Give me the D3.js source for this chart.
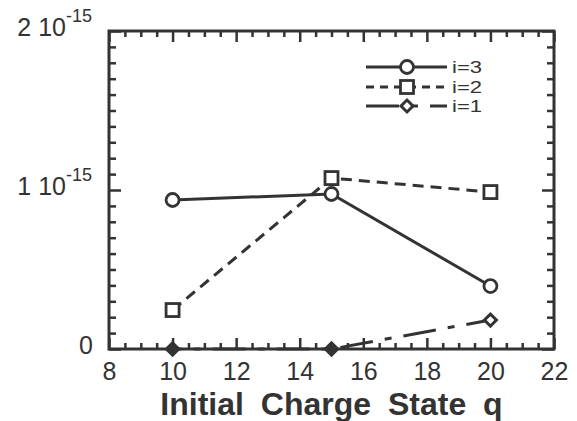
<!DOCTYPE html>
<html>
<head>
<meta charset="utf-8">
<title>Cross section vs initial charge state</title>
<script src="https://cdn.jsdelivr.net/npm/d3@7"></script>
<style>
  body { margin: 0; background: #fff; }
  svg { font-family: "Liberation Sans", Arial, Helvetica, sans-serif; }
  .axis path { display: none; }
  .axis line { stroke: #333; stroke-width: 2.5; }
  .axis text { fill: #333; font-size: 25px; }
  .serie { fill: none; stroke: #333; stroke-width: 3; }
</style>
</head>
<body>
<div id="graphe"></div>
<script>
// donnees
var charge = [10, 15, 20];
var sigma3 = [0.937e-15, 0.975e-15, 0.396e-15];
var sigma2 = [0.245e-15, 1.075e-15, 0.987e-15];
var sigma1 = [0, 0, 0.182e-15];
var plein1 = [true, true, false];   // losanges pleins ou vides

var xMajor = [8, 10, 12, 14, 16, 18, 20, 22];
var yMajor = [0, 1e-15, 2e-15];
var yLabels = ["0", "1 10", "2 10"];

var width = 577, height = 421;
var margin = {top: 31, right: 23, bottom: 72, left: 109};
var w = width - margin.left - margin.right,
    h = height - margin.top - margin.bottom;

var svg = d3.select("#graphe").append("svg")
    .attr("width", width)
    .attr("height", height);

var x = d3.scaleLinear().domain([8, 22]).range([margin.left, margin.left + w]);
var y = d3.scaleLinear().domain([0, 2e-15]).range([margin.top + h, margin.top]);

var xMinor = d3.range(8, 22.01, 0.5).filter(function(d) { return d % 2 !== 0; });
var yMinor = d3.range(0, 20.5, 1).filter(function(d) { return d % 10 !== 0; })
    .map(function(d) { return d * 1e-16; });

// courbes
var line = d3.line()
    .x(function(d) { return x(d[0]); })
    .y(function(d) { return y(d[1]); });

function pts(s) { return charge.map(function(c, i) { return [c, s[i]]; }); }

svg.append("path").attr("class", "serie").attr("d", line(pts(sigma3)));
svg.append("path").attr("class", "serie").attr("d", line(pts(sigma2)))
    .style("stroke-dasharray", "11,7");
svg.append("path").attr("class", "serie").attr("d", line(pts(sigma1)))
    .style("stroke-dasharray", "33,12,7,12").style("stroke-dashoffset", 24);

// axes : graduations vers l'interieur sur les quatre cotes
function ticks(axis, vals, size, g) {
  svg.append("g").attr("class", "axis").attr("transform", g)
    .call(axis.tickValues(vals).tickSize(size).tickFormat(""));
}
ticks(d3.axisBottom(x), xMinor, -6, "translate(0," + y(0) + ")");
ticks(d3.axisTop(x), xMinor, -6, "translate(0," + y(2e-15) + ")");
ticks(d3.axisTop(x), xMajor, -11, "translate(0," + y(2e-15) + ")");
ticks(d3.axisLeft(y), yMinor, -7, "translate(" + x(8) + ",0)");
ticks(d3.axisRight(y), yMinor, -7, "translate(" + x(22) + ",0)");
ticks(d3.axisRight(y), yMajor, -12, "translate(" + x(22) + ",0)");

svg.append("g").attr("class", "axis")
    .attr("transform", "translate(0," + y(0) + ")")
    .call(d3.axisBottom(x).tickValues(xMajor).tickSize(-11).tickPadding(13)
      .tickFormat(d3.format("d")));

var yAxis = svg.append("g").attr("class", "axis")
    .attr("transform", "translate(" + x(8) + ",0)")
    .call(d3.axisLeft(y).tickValues(yMajor).tickSize(-12).tickPadding(17)
      .tickFormat(function(d, i) { return yLabels[i]; }));
yAxis.selectAll(".tick text")
    .attr("dy", "0.18em")
    .each(function(d, i) {
      if (i === 0) return;
      var t = d3.select(this);
      t.text(null);
      t.append("tspan").text(yLabels[i]);
      t.append("tspan").attr("dy", -14).style("font-size", "18px").text("-15");
    });
yAxis.selectAll(".tick").filter(function(d) { return d === 0; })
    .select("text").attr("x", -16);

// cadre
svg.append("rect")
    .attr("x", x(8)).attr("y", y(2e-15))
    .attr("width", x(22) - x(8)).attr("height", y(0) - y(2e-15))
    .style("fill", "none").style("stroke", "#333").style("stroke-width", 3);

// symboles
var losange = d3.symbol().type(d3.symbolSquare);

function marks(s, kind, fills) {
  var g = svg.append("g");
  s.forEach(function(v, i) {
    var cx = x(charge[i]), cy = y(v);
    var filled = fills ? fills[i] : false;
    if (kind === "circle") {
      g.append("circle").attr("cx", cx).attr("cy", cy).attr("r", 6.5)
        .style("fill", "#fff").style("stroke", "#333").style("stroke-width", 2.8);
    } else if (kind === "square") {
      g.append("rect").attr("x", cx - 6.5).attr("y", cy - 6.5)
        .attr("width", 13).attr("height", 13)
        .style("fill", "#fff").style("stroke", "#333").style("stroke-width", 2.8);
    } else {
      g.append("path").attr("d", losange.size(filled ? 105 : 72)())
        .attr("transform", "translate(" + cx + "," + cy + ") rotate(45)")
        .style("fill", filled ? "#333" : "#fff")
        .style("stroke", "#333").style("stroke-width", filled ? 1.5 : 3);
    }
  });
}
marks(sigma3, "circle");
marks(sigma2, "square");
marks(sigma1, "diamond", plein1);

// legende
var legende = [
  {nom: "i=3", kind: "circle", dash: null, y: 67},
  {nom: "i=2", kind: "square", dash: "8,6", y: 87},
  {nom: "i=1", kind: "diamond", dash: "33,12,7,12", y: 106}
];
legende.forEach(function(l) {
  svg.append("line").attr("x1", 366).attr("x2", 447).attr("y1", l.y).attr("y2", l.y)
    .attr("class", "serie").style("stroke-dasharray", l.dash);
  if (l.kind === "circle") {
    svg.append("circle").attr("cx", 407).attr("cy", l.y).attr("r", 6.5)
      .style("fill", "#fff").style("stroke", "#333").style("stroke-width", 2.8);
  } else if (l.kind === "square") {
    svg.append("rect").attr("x", 400.5).attr("y", l.y - 6.5).attr("width", 13).attr("height", 13)
      .style("fill", "#fff").style("stroke", "#333").style("stroke-width", 2.8);
  } else {
    svg.append("path").attr("d", losange.size(72)())
      .attr("transform", "translate(407," + l.y + ") rotate(45)")
      .style("fill", "#fff").style("stroke", "#333").style("stroke-width", 3);
  }
  svg.append("text").attr("x", 452).attr("y", l.y + 6)
    .style("font-size", "17px").style("fill", "#333")
    .attr("textLength", 30).attr("lengthAdjust", "spacingAndGlyphs")
    .text(l.nom);
});

// titre de l'axe
svg.append("text")
    .attr("x", (x(8) + x(22)) / 2).attr("y", 415)
    .attr("text-anchor", "middle")
    .style("font-size", "32px").style("font-weight", "bold")
    .style("word-spacing", "8px").style("fill", "#333")
    .text("Initial Charge State q");
</script>
</body>
</html>
